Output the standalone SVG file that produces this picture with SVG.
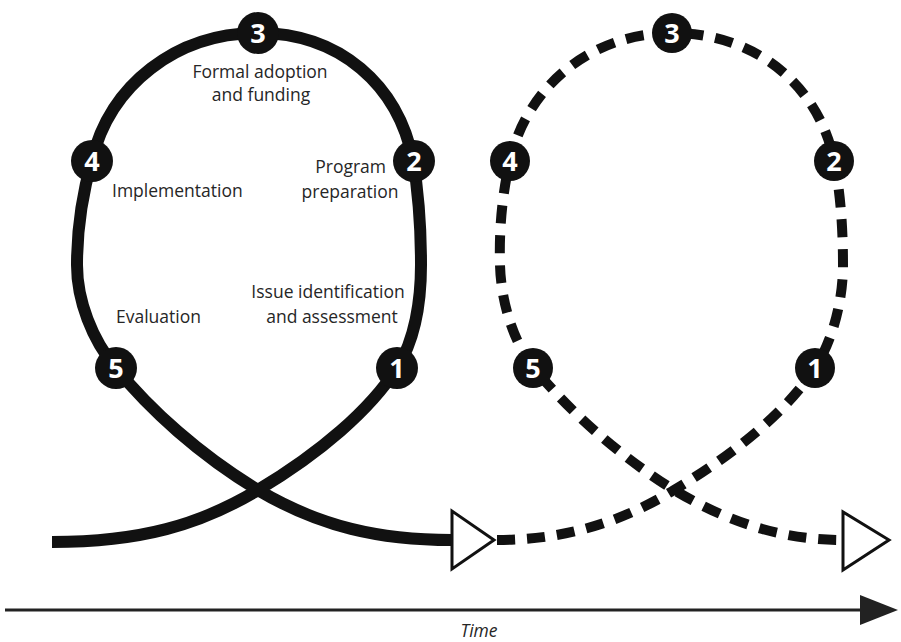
<svg xmlns="http://www.w3.org/2000/svg" width="901" height="642" viewBox="0 0 901 642">
<style>
.solid{fill:none;stroke:#111;stroke-width:12;stroke-linecap:butt}
.dash{fill:none;stroke:#111;stroke-width:10;stroke-dasharray:18 12}
.circ{fill:#111}
.num{font-family:"Open Sans","Liberation Sans",sans-serif;font-weight:bold;font-size:27px;fill:#fff;text-anchor:middle}
.lbl{font-family:"Open Sans","Liberation Sans",sans-serif;font-size:17.5px;fill:#262626}
.tri{fill:#fff;stroke:#111;stroke-width:3;stroke-linejoin:miter}
.axis{stroke:#222;stroke-width:3}
</style>
<rect width="901" height="642" fill="#fff"/>
<g id="connectors">
<path class="solid" d="M52,542 C140,542 200,525 258,490 C320,453 370,410 397,368 C415,340 421,300 421,265 C421,225 418,190 413,160 C398,85 340,33 258,33 C176,33 110,85 92,160 C82,195 77,230 77,265 C77,300 92,340 116,368 C150,410 200,455 258,490 C320,527 380,540 452,540"/>
<polygon class="tri" points="452,511 452,569 494,540"/>
<path class="dash" d="M497,540 C565,540 622,522 674,490 C736,453 788,410 815,368 C833,340 843,300 843,265 C843,225 840,190 834,160 C818,85 756,33 672,33 C592,33 528,85 510,160 C502,195 499,230 500,265 C501,300 512,340 534,368 C568,410 618,455 674,490 C736,527 790,540 843,540"/>
<polygon class="tri" points="843,512 843,570 889,540"/>
<line class="axis" x1="5" y1="610" x2="864" y2="610"/>
<polygon points="860,595 898,610 860,625" fill="#222"/>
<text x="479" y="637" class="lbl" font-size="16" font-style="italic" text-anchor="middle">Time</text>
</g>
<g id="s1">
<circle class="circ" cx="397" cy="368" r="21"/>
<text class="num" x="397" y="378">1</text>
<text class="lbl" x="328" y="298" text-anchor="middle">Issue identification</text>
<text class="lbl" x="332" y="323" text-anchor="middle">and assessment</text>
</g>
<g id="s2">
<circle class="circ" cx="414" cy="161" r="21"/>
<text class="num" x="414" y="171">2</text>
<text class="lbl" x="386" y="173" text-anchor="end">Program</text>
<text class="lbl" x="350" y="198" text-anchor="middle">preparation</text>
</g>
<g id="s3">
<circle class="circ" cx="258" cy="33" r="21"/>
<text class="num" x="258" y="43">3</text>
<text class="lbl" x="260" y="78" text-anchor="middle">Formal adoption</text>
<text class="lbl" x="261" y="101" text-anchor="middle">and funding</text>
</g>
<g id="s4">
<circle class="circ" cx="92" cy="161" r="21"/>
<text class="num" x="92" y="171">4</text>
<text class="lbl" x="112" y="197">Implementation</text>
</g>
<g id="s5">
<circle class="circ" cx="116" cy="368" r="21"/>
<text class="num" x="116" y="378">5</text>
<text class="lbl" x="116" y="323">Evaluation</text>
</g>
<g id="d1">
<circle class="circ" cx="815" cy="368" r="20"/>
<text class="num" x="815" y="378">1</text>
</g>
<g id="d2">
<circle class="circ" cx="834" cy="161" r="20"/>
<text class="num" x="834" y="171">2</text>
</g>
<g id="d3">
<circle class="circ" cx="672" cy="33" r="20"/>
<text class="num" x="672" y="43">3</text>
</g>
<g id="d4">
<circle class="circ" cx="510" cy="161" r="20"/>
<text class="num" x="510" y="171">4</text>
</g>
<g id="d5">
<circle class="circ" cx="533" cy="368" r="20"/>
<text class="num" x="533" y="378">5</text>
</g>
</svg>
